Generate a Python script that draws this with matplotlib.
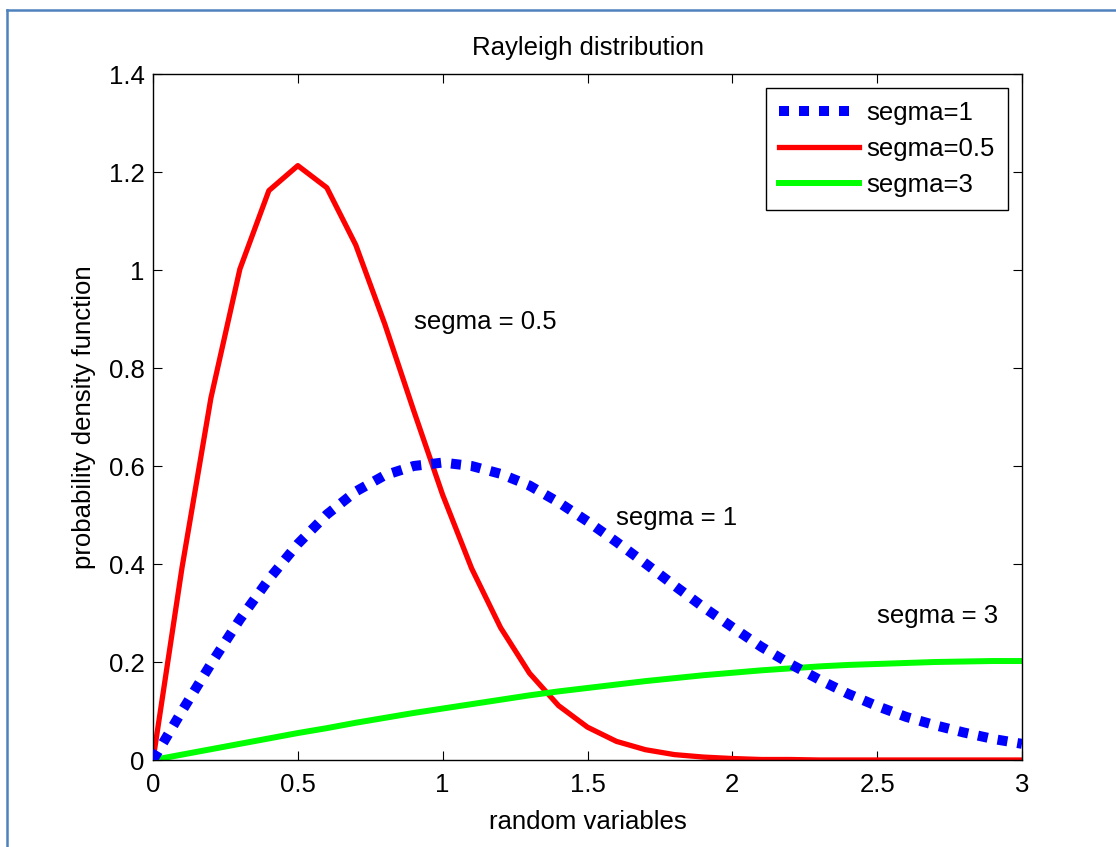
import matplotlib
matplotlib.use("Agg")
import matplotlib.pyplot as plt
from matplotlib.lines import Line2D
from matplotlib.ticker import FuncFormatter

plt.rcParams["font.family"] = ["Liberation Sans", "DejaVu Sans"]

# random variable grid (0:0.1:3)
x = [0.0, 0.1, 0.2, 0.3, 0.4, 0.5, 0.6, 0.7, 0.8, 0.9, 1.0,
     1.1, 1.2, 1.3, 1.4, 1.5, 1.6, 1.7, 1.8, 1.9, 2.0,
     2.1, 2.2, 2.3, 2.4, 2.5, 2.6, 2.7, 2.8, 2.9, 3.0]

# pdf values
pdf_s1 = [0.0, 0.100, 0.196, 0.287, 0.369, 0.441, 0.501, 0.548, 0.581, 0.600, 0.607,
          0.600, 0.584, 0.560, 0.526, 0.487, 0.445, 0.401, 0.356, 0.312, 0.271,
          0.231, 0.196, 0.164, 0.135, 0.110, 0.088, 0.071, 0.056, 0.043, 0.033]
pdf_s05 = [0.0, 0.392, 0.739, 1.002, 1.162, 1.213, 1.168, 1.051, 0.890, 0.713, 0.541,
           0.391, 0.270, 0.177, 0.111, 0.067, 0.038, 0.021, 0.011, 0.006, 0.003,
           0.001, 0.001, 0.0, 0.0, 0.0, 0.0, 0.0, 0.0, 0.0, 0.0]
pdf_s3 = [0.0, 0.011, 0.022, 0.033, 0.044, 0.055, 0.065, 0.076, 0.086, 0.096, 0.105,
          0.114, 0.123, 0.132, 0.140, 0.147, 0.154, 0.161, 0.167, 0.173, 0.178,
          0.183, 0.187, 0.191, 0.194, 0.196, 0.198, 0.200, 0.201, 0.202, 0.202]

labels = ["segma=1", "segma=0.5", "segma=3"]
notes = [("segma = 0.5", 0.9, 0.9), ("segma = 1", 1.6, 0.5), ("segma = 3", 2.5, 0.3)]

FS = 18.5
W, H = 1116, 847
fig = plt.figure(figsize=(W / 100, H / 100), dpi=100)
ax = fig.add_axes([153 / W, 1 - 760 / H, (1022 - 153) / W, (760 - 74) / H])

ax.plot(x, pdf_s1, color="#0000ff", lw=7.2, dashes=(1, 1), dash_capstyle="butt",
        label=labels[0], zorder=3)
ax.plot(x, pdf_s05, color="#ff0000", lw=3.8, label=labels[1], zorder=2)
ax.plot(x, pdf_s3, color="#00ff00", lw=4.3, label=labels[2], zorder=2)

for txt, tx, ty in notes:
    ax.text(tx, ty, txt, fontsize=FS, va="center_baseline", ha="left")

ax.set_xlim(0, 3)
ax.set_ylim(0, 1.4)
ax.set_xticks([0, 0.5, 1, 1.5, 2, 2.5, 3])
ax.set_yticks([0, 0.2, 0.4, 0.6, 0.8, 1.0, 1.2, 1.4])
ax.xaxis.set_major_formatter(FuncFormatter(lambda v, p: f"{v:g}"))
ax.yaxis.set_major_formatter(FuncFormatter(lambda v, p: f"{v:g}"))
ax.tick_params(direction="in", length=6.5, width=0.8, top=True, right=True,
               labelsize=FS)
ax.tick_params(axis="x", pad=9)
ax.tick_params(axis="y", pad=6)
for s in ax.spines.values():
    s.set_linewidth(1.0)

ax.set_title("Rayleigh distribution", fontsize=FS, pad=14)
ax.set_xlabel("random variables", fontsize=FS, labelpad=10)
ax.set_ylabel("probability density function", fontsize=FS, labelpad=9)

leg = ax.legend(loc="upper right", fontsize=FS, handlelength=3.1, handletextpad=0.3,
                labelspacing=0.47, borderpad=0.5, borderaxespad=0.55,
                fancybox=False, framealpha=1, edgecolor="black")
leg.get_frame().set_linewidth(1.0)

# page frame around the picture
fig.add_artist(Line2D([7 / W, 1.0], [1 - 10 / H, 1 - 10 / H], color="#4f81bd", lw=1.8,
                      transform=fig.transFigure))
fig.add_artist(Line2D([7 / W, 7 / W], [0.0, 1 - 10 / H], color="#4f81bd", lw=1.8,
                      transform=fig.transFigure))

fig.savefig("out.png", dpi=100)
